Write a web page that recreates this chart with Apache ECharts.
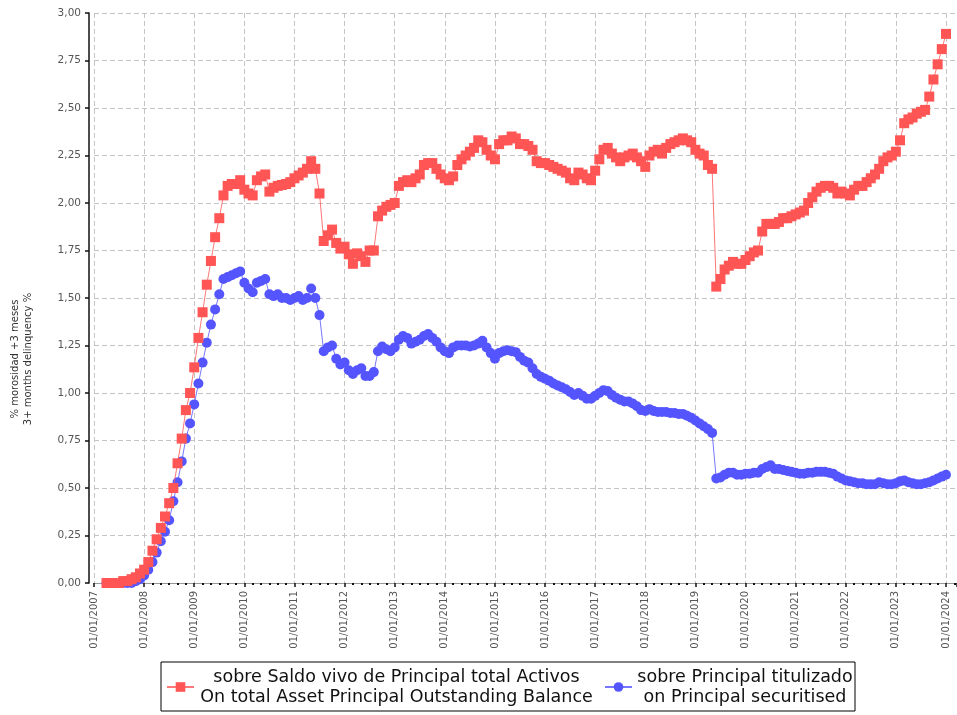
<!DOCTYPE html>
<html>
<head>
<meta charset="utf-8">
<title>Morosidad +3 meses</title>
<script src="https://cdn.jsdelivr.net/npm/echarts@6/dist/echarts.min.js"></script>
<style>
  html, body { margin: 0; padding: 0; background: #fff; }
  #chart { width: 957px; height: 715px; }
</style>
</head>
<body>
<div id="chart"></div>
<script>
// monthly series, first point = April 2007, last = January 2024
var startYear = 2007;
var startMonth = 4;

// % sobre Saldo vivo de Principal total Activos
var activos = [
  0.00, 0.00, 0.00, 0.00, 0.01, 0.01, 0.02, 0.03, 0.05,                   // 2007 (Apr-Dec)
  0.07, 0.11, 0.17, 0.23, 0.29, 0.35, 0.42, 0.50, 0.63, 0.76, 0.91, 1.00, // 2008
  1.135, 1.29, 1.425, 1.57, 1.695, 1.82, 1.92, 2.04, 2.09, 2.10, 2.10, 2.12, // 2009
  2.07, 2.05, 2.04, 2.12, 2.14, 2.15, 2.06, 2.08, 2.09, 2.095, 2.10, 2.11, // 2010
  2.13, 2.145, 2.16, 2.18, 2.22, 2.18, 2.05, 1.80, 1.83, 1.86, 1.79, 1.76, // 2011
  1.77, 1.73, 1.68, 1.735, 1.72, 1.69, 1.75, 1.75, 1.93, 1.96, 1.98, 1.99, // 2012
  2.00, 2.09, 2.11, 2.12, 2.11, 2.13, 2.15, 2.20, 2.21, 2.21, 2.18, 2.15, // 2013
  2.13, 2.12, 2.14, 2.20, 2.23, 2.25, 2.27, 2.29, 2.33, 2.32, 2.28, 2.25, // 2014
  2.23, 2.31, 2.33, 2.33, 2.35, 2.34, 2.31, 2.31, 2.30, 2.28, 2.22, 2.21, // 2015
  2.21, 2.20, 2.19, 2.18, 2.17, 2.16, 2.13, 2.12, 2.16, 2.15, 2.13, 2.12, // 2016
  2.17, 2.23, 2.28, 2.29, 2.26, 2.24, 2.22, 2.24, 2.25, 2.26, 2.24, 2.22, // 2017
  2.19, 2.25, 2.27, 2.28, 2.26, 2.29, 2.31, 2.32, 2.33, 2.34, 2.33, 2.32, // 2018
  2.28, 2.26, 2.25, 2.20, 2.18, 1.56, 1.60, 1.65, 1.67, 1.69, 1.68, 1.68, // 2019
  1.70, 1.72, 1.74, 1.75, 1.85, 1.89, 1.89, 1.89, 1.90, 1.92, 1.92, 1.93, // 2020
  1.94, 1.95, 1.96, 2.00, 2.03, 2.06, 2.08, 2.09, 2.09, 2.08, 2.05, 2.06, // 2021
  2.05, 2.04, 2.07, 2.09, 2.09, 2.11, 2.13, 2.15, 2.18, 2.22, 2.24, 2.25, // 2022
  2.27, 2.33, 2.42, 2.44, 2.45, 2.47, 2.48, 2.49, 2.56, 2.65, 2.73, 2.81, // 2023
  2.89                                                                    // 2024 (Jan)
];

// % sobre Principal titulizado
var titulizado = [
  0.00, 0.00, 0.00, 0.00, 0.00, 0.00, 0.00, 0.01, 0.02,                   // 2007 (Apr-Dec)
  0.04, 0.07, 0.11, 0.16, 0.22, 0.27, 0.33, 0.43, 0.53, 0.64, 0.76, 0.84, // 2008
  0.94, 1.05, 1.16, 1.265, 1.36, 1.44, 1.52, 1.60, 1.61, 1.62, 1.63, 1.64, // 2009
  1.58, 1.55, 1.53, 1.58, 1.59, 1.60, 1.52, 1.51, 1.52, 1.50, 1.50, 1.49, // 2010
  1.50, 1.51, 1.49, 1.50, 1.55, 1.50, 1.41, 1.22, 1.24, 1.25, 1.18, 1.15, // 2011
  1.16, 1.12, 1.10, 1.12, 1.13, 1.09, 1.09, 1.11, 1.22, 1.245, 1.23, 1.22, // 2012
  1.24, 1.28, 1.30, 1.29, 1.26, 1.27, 1.28, 1.30, 1.31, 1.29, 1.27, 1.24, // 2013
  1.22, 1.21, 1.24, 1.25, 1.25, 1.25, 1.245, 1.25, 1.26, 1.275, 1.24, 1.21, // 2014
  1.18, 1.21, 1.22, 1.225, 1.22, 1.215, 1.19, 1.17, 1.16, 1.13, 1.10, 1.085, // 2015
  1.075, 1.065, 1.05, 1.04, 1.03, 1.02, 1.005, 0.99, 1.00, 0.985, 0.97, 0.97, // 2016
  0.985, 1.00, 1.015, 1.01, 0.99, 0.975, 0.965, 0.955, 0.955, 0.945, 0.93, 0.91, // 2017
  0.905, 0.915, 0.905, 0.90, 0.90, 0.90, 0.895, 0.895, 0.89, 0.89, 0.88, 0.87, // 2018
  0.855, 0.84, 0.825, 0.81, 0.79, 0.55, 0.555, 0.57, 0.58, 0.58, 0.57, 0.57, // 2019
  0.575, 0.575, 0.58, 0.58, 0.60, 0.61, 0.62, 0.60, 0.60, 0.595, 0.59, 0.585, // 2020
  0.58, 0.575, 0.575, 0.58, 0.58, 0.585, 0.585, 0.585, 0.58, 0.575, 0.56, 0.55, // 2021
  0.54, 0.535, 0.53, 0.525, 0.525, 0.52, 0.52, 0.52, 0.53, 0.525, 0.52, 0.52, // 2022
  0.525, 0.535, 0.54, 0.53, 0.525, 0.52, 0.52, 0.525, 0.53, 0.54, 0.55, 0.56, // 2023
  0.57                                                                    // 2024 (Jan)
];

var legendActivos = ['sobre Saldo vivo de Principal total Activos', 'On total Asset Principal Outstanding Balance'];
var legendTitulizado = ['sobre Principal titulizado', 'on Principal securitised'];
var yAxisTitle = ['% morosidad +3 meses', '3+ months delinquency %'];

// month i after the start -> position in years (01/01/yyyy is an integer)
function toPoints(values) {
    return values.map(function (v, i) {
        return [startYear + (startMonth - 1 + i) / 12, v];
    });
}

var chart = echarts.init(document.getElementById('chart'));

var gridLine = {show: true, lineStyle: {color: '#c4c4c4', width: 1, type: [5, 3]}};
var font = 'DejaVu Sans';

var option = {
    animation: false,
    backgroundColor: '#ffffff',
    grid: {left: 94, right: 0, top: 13, bottom: 132, containLabel: false},
    xAxis: {
        type: 'value',
        min: 2007,
        max: 2024.22,
        interval: 1,
        axisLine: {show: true, onZero: false, lineStyle: {color: '#999', width: 1}},
        axisTick: {show: true, length: 4, lineStyle: {color: '#111', width: 1.5}},
        minorTick: {show: true, splitNumber: 6, length: 2, lineStyle: {color: '#111', width: 2}},
        axisLabel: {
            rotate: 90, fontSize: 10, color: '#555', margin: 8, fontFamily: font,
            formatter: function (v) {
                return Math.abs(v - Math.round(v)) < 1e-6 ? '01/01/' + Math.round(v) : '';
            }
        },
        splitLine: gridLine
    },
    yAxis: {
        type: 'value',
        min: 0,
        max: 3,
        interval: 0.25,
        offset: 5,
        axisLine: {show: true, lineStyle: {color: '#111', width: 1.5}},
        axisTick: {show: true, length: 4, lineStyle: {color: '#111', width: 1.5}},
        axisLabel: {
            fontSize: 10.5, color: '#555', margin: 8, fontFamily: font,
            formatter: function (v) { return v.toFixed(2).replace('.', ','); }
        },
        splitLine: gridLine
    },
    legend: {
        left: 161,
        top: 662,
        orient: 'horizontal',
        padding: [6, 2, 5, 5],
        borderColor: '#000',
        borderWidth: 1,
        itemWidth: 27,
        itemHeight: 12,
        itemGap: 10,
        lineStyle: {width: 2},
        data: [legendActivos[0], legendTitulizado[0]],
        formatter: function (name) {
            if (name === legendActivos[0]) {
                return '{a|' + legendActivos[0] + '}\n{a|' + legendActivos[1] + '}';
            }
            return '{b|' + legendTitulizado[0] + '}\n{b|' + legendTitulizado[1] + '}';
        },
        textStyle: {
            fontSize: 17.5, fontFamily: font, color: '#000',
            rich: {
                a: {width: 395, align: 'center', fontSize: 17.5, lineHeight: 20, fontFamily: font, color: '#111'},
                b: {width: 216, align: 'center', fontSize: 17.5, lineHeight: 20, fontFamily: font, color: '#111'}
            }
        }
    },
    graphic: [{
        type: 'text',
        x: 22,
        y: 359,
        rotation: Math.PI / 2,
        style: {
            text: yAxisTitle.join('\n'),
            fontSize: 10, fontFamily: font, fill: '#333',
            align: 'center', verticalAlign: 'middle', lineHeight: 13
        }
    }],
    series: [
        {
            name: legendActivos[0],
            type: 'line',
            data: toPoints(activos),
            symbol: 'rect',
            symbolSize: 10,
            showAllSymbol: true,
            z: 3,
            itemStyle: {color: '#ff5555'},
            lineStyle: {color: '#ff5555', width: 1, opacity: 0.8}
        },
        {
            name: legendTitulizado[0],
            type: 'line',
            data: toPoints(titulizado),
            symbol: 'circle',
            symbolSize: 10,
            showAllSymbol: true,
            z: 2,
            itemStyle: {color: '#5555ff'},
            lineStyle: {color: '#5555ff', width: 1, opacity: 0.8}
        }
    ]
};

chart.setOption(option);
</script>
</body>
</html>
